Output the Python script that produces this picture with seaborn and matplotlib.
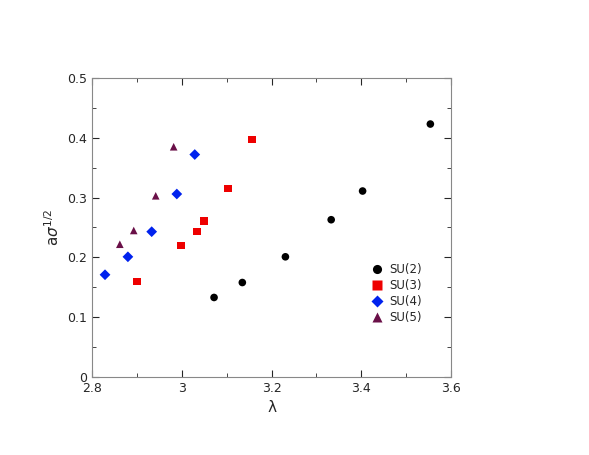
import matplotlib
matplotlib.use("Agg")
import matplotlib.pyplot as plt
import seaborn as sns
import pandas as pd
from matplotlib.ticker import MultipleLocator, FuncFormatter

su2_x = [3.072, 3.135, 3.231, 3.333, 3.403, 3.554]
su2_y = [0.133, 0.158, 0.201, 0.263, 0.311, 0.423]
su3_x = [2.900, 2.998, 3.034, 3.050, 3.103, 3.157]
su3_y = [0.160, 0.220, 0.243, 0.261, 0.315, 0.397]
su4_x = [2.829, 2.880, 2.933, 2.989, 3.029]
su4_y = [0.171, 0.201, 0.243, 0.306, 0.372]
su5_x = [2.862, 2.893, 2.942, 2.982]
su5_y = [0.222, 0.245, 0.303, 0.385]

rows = []
for name, xs, ys in [("SU(2)", su2_x, su2_y), ("SU(3)", su3_x, su3_y),
                     ("SU(4)", su4_x, su4_y), ("SU(5)", su5_x, su5_y)]:
    for a, b in zip(xs, ys):
        rows.append({"x": a, "y": b, "g": name})
df = pd.DataFrame(rows)

sns.set_style("ticks")
plt.rcParams['font.family'] = ['DejaVu Sans']
fig = plt.figure(figsize=(5.89, 4.55), dpi=100)
ax = fig.add_axes([92/589, 78/455, 359/589, 299/455])
sns.scatterplot(data=df, x="x", y="y", hue="g", style="g",
                palette={"SU(2)": "black", "SU(3)": "#ee0000", "SU(4)": "#0022ee", "SU(5)": "#6a1048"},
                markers={"SU(2)": "o", "SU(3)": "s", "SU(4)": "D", "SU(5)": "^"},
                s=30, edgecolor="none", ax=ax)
ax.set_xlim(2.8, 3.6)
ax.set_ylim(0, 0.5)
ax.xaxis.set_major_locator(MultipleLocator(0.2))
ax.xaxis.set_minor_locator(MultipleLocator(0.1))
ax.yaxis.set_major_locator(MultipleLocator(0.1))
ax.yaxis.set_minor_locator(MultipleLocator(0.05))
fmt = FuncFormatter(lambda v, p: f"{v:.1f}".rstrip("0").rstrip(".") if abs(v - round(v)) < 1e-9 else f"{v:.1f}")
ax.xaxis.set_major_formatter(fmt)
ax.yaxis.set_major_formatter(fmt)
ax.tick_params(which="both", direction="in", top=True, right=True, labelsize=9)
ax.tick_params(which="major", length=5)
ax.tick_params(which="minor", length=3)
for sp in ax.spines.values():
    sp.set_color("#888888")
    sp.set_linewidth(0.8)
ax.set_xlabel("λ", fontsize=11)
ax.set_ylabel(r"a$\sigma^{1/2}$", fontsize=11)
ax.legend(loc="center left", bbox_to_anchor=(0.73, 0.28), frameon=False,
          fontsize=8.5, handletextpad=0.1, labelspacing=0.25, title=None, markerscale=1.2)
fig.savefig("out.png", dpi=100)
